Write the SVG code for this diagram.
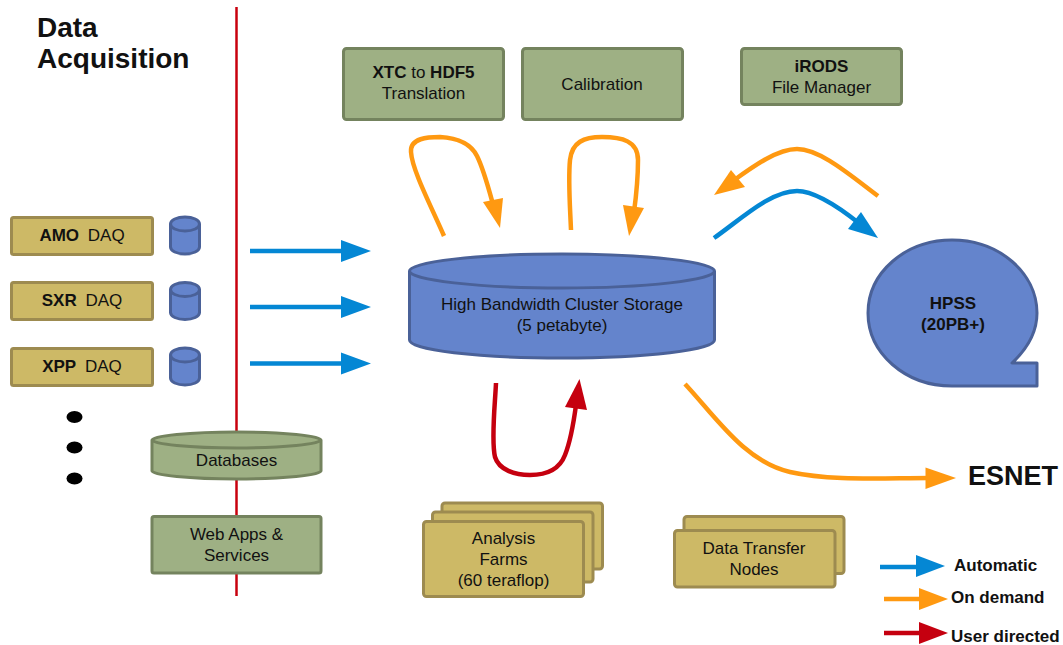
<svg xmlns="http://www.w3.org/2000/svg" width="1063" height="645" viewBox="0 0 1063 645">
<style>
text{font-family:"Liberation Sans",Arial,sans-serif;font-size:17px;fill:#111;text-anchor:middle}
.b{font-weight:700}
.tan{fill:#cdb966;stroke:#9d8b50;stroke-width:3;stroke-linejoin:round}
.grn{fill:#9eb084;stroke:#74835e;stroke-width:3;stroke-linejoin:round}
.blu{fill:#6484cc;stroke:#4a6198;stroke-width:3;stroke-linejoin:round}
.c{fill:none;stroke-width:4.5}
.o{stroke:#ff9911}.a{stroke:#0487d4}.r{stroke:#c5000f}
.fo{fill:#ff9911}.fa{fill:#0487d4}.fr{fill:#c5000f}
.l{font-weight:700;font-size:17px;text-anchor:start}
</style>
<rect width="1063" height="645" fill="#fff"/>
<g id="divider"><line x1="236.5" y1="7" x2="236.5" y2="596" stroke="#c8000e" stroke-width="2.500"/></g>
<g id="title"><text x="37" y="37" class="b" style="font-size:28px;text-anchor:start">Data</text><text x="37" y="68" class="b" style="font-size:28px;text-anchor:start">Acquisition</text></g>
<g id="amo"><rect class="tan" x="11.500" y="217.500" width="141" height="37" rx="2"/><text x="82" y="241"><tspan class="b">AMO</tspan>  <tspan dx="4">DAQ</tspan></text></g>
<g id="sxr"><rect class="tan" x="11.500" y="282.500" width="141" height="37" rx="2"/><text x="82" y="306"><tspan class="b">SXR</tspan>  <tspan dx="4">DAQ</tspan></text></g>
<g id="xpp"><rect class="tan" x="11.500" y="348.500" width="141" height="37" rx="2"/><text x="82" y="372"><tspan class="b">XPP</tspan>  <tspan dx="4">DAQ</tspan></text></g>
<g id="disk-amo"><path class="blu" d="M170.500 224v23c0 4 6.500 7 14.500 7s14.500-3 14.500-7v-23c0-4-6.500-7-14.500-7s-14.500 3-14.500 7c0 4 6.500 7 14.500 7s14.500-3 14.500-7"/></g>
<g id="disk-sxr"><path class="blu" d="M170.500 289.500v23c0 4 6.500 7 14.500 7s14.500-3 14.500-7v-23c0-4-6.500-7-14.500-7s-14.500 3-14.500 7c0 4 6.500 7 14.500 7s14.500-3 14.500-7"/></g>
<g id="disk-xpp"><path class="blu" d="M170.500 355v23c0 4 6.500 7 14.500 7s14.500-3 14.500-7v-23c0-4-6.500-7-14.500-7s-14.500 3-14.500 7c0 4 6.500 7 14.500 7s14.500-3 14.500-7"/></g>
<g id="ellipsis"><ellipse cx="74.500" cy="417" rx="8" ry="6"/><ellipse cx="74.500" cy="447.500" rx="8" ry="6"/><ellipse cx="74.500" cy="478.500" rx="8" ry="6"/></g>
<g id="databases"><path class="grn" d="M152 440v31c0 4 38 8 84.500 8s84.500-4 84.500-8v-31c0-4-38-8-84.500-8s-84.500 4-84.500 8c0 4 38 8 84.500 8s84.500-4 84.500-8"/><text x="236.500" y="466">Databases</text></g>
<g id="webapps"><rect class="grn" x="152" y="516.500" width="169" height="56.500" rx="2"/><text x="236.500" y="540">Web Apps &amp;</text><text x="236.500" y="561">Services</text></g>
<g id="xtc"><rect class="grn" x="343.500" y="48.500" width="160" height="71" rx="3"/><text x="423.500" y="78"><tspan class="b">XTC</tspan> to <tspan class="b">HDF5</tspan></text><text x="423.500" y="99">Translation</text></g>
<g id="calibration"><rect class="grn" x="522.500" y="48.500" width="160" height="71" rx="3"/><text x="602" y="90">Calibration</text></g>
<g id="irods"><rect class="grn" x="741.500" y="48.500" width="160" height="56" rx="3"/><text x="821.500" y="72" class="b">iRODS</text><text x="821.500" y="93">File Manager</text></g>
<g id="storage"><path class="blu" d="M409.500 271v69c0 10 68 18 152.500 18s152.500-8 152.500-18v-69c0-9-68-17-152.500-17s-152.500 8-152.500 17c0 9 68 17 152.500 17s152.500-8 152.500-17"/><text x="562" y="310">High Bandwidth Cluster Storage</text><text x="562" y="331">(5 petabyte)</text></g>
<g id="hpss"><path class="blu" d="M1037 386H952C905 386 868 353 868 313S905 240 952 240S1037 273 1037 313C1037 332 1027 349 1012 363H1037Z"/><text x="953" y="309" class="b">HPSS</text><text x="953" y="330" class="b">(20PB+)</text></g>
<g id="analysis"><rect class="tan" x="442" y="503" width="160.500" height="66" rx="3"/><rect class="tan" x="432.500" y="512" width="160.500" height="70" rx="3"/><rect class="tan" x="423.500" y="521.500" width="160" height="75" rx="3"/><text x="503.500" y="544">Analysis</text><text x="503.500" y="565">Farms</text><text x="503.500" y="586">(60 teraflop)</text></g>
<g id="transfer"><rect class="tan" x="684" y="516.500" width="160" height="57" rx="3"/><rect class="tan" x="674.500" y="530.500" width="160.500" height="56.500" rx="3"/><text x="754" y="554">Data Transfer</text><text x="754" y="575">Nodes</text></g>
<g id="connectors">
<path class="c a" d="M250 251H345M250 307H345M250 363.500H345"/>
<path class="fa" d="M341 240l30 11-30 11zM341 296l30 11-30 11zM341 352.500l30 11-30 11z"/>
<path class="c o" d="M444 236C432 208 412 170 411 152C410 138 428 137 440 137C456 138 470 142 477 156C484 170 489 190 494 208"/>
<path class="fo" d="M500 228L483 202L503 198Z"/>
<path class="c o" d="M571 230C570 205 568 180 570 160C572 142 584 137 602 137C622 137 638 141 638 160C638 175 637 190 634 212"/>
<path class="fo" d="M629 236L623 205L644 208Z"/>
<path class="c o" d="M878 196C850 175 820 149 797 149C778 149 755 165 733 181"/>
<path class="fo" d="M714 195L731 170L745 187Z"/>
<path class="c a" d="M714 238C740 220 770 191 797 191C815 191 840 208 860 224"/>
<path class="fa" d="M878 238L861 212L848 229Z"/>
<path class="c r" d="M496 383C495 405 491 440 495 457C499 470 515 475 530 475C548 475 560 468 565 455C571 440 574 420 576 405"/>
<path class="fr" d="M579.500 379L565 407L587 410Z"/>
<path class="c o" d="M685 384C715 416 745 462 790 472C830 481 880 478 930 478"/>
<path class="fo" d="M925.500 467.500L956 478L925.500 489Z"/>
<path class="c a" d="M880 567H920"/><path class="fa" d="M916 555l29 11-29 11z"/>
<path class="c o" d="M884 599H922"/><path class="fo" d="M919 588l29 11-29 11z"/>
<path class="c r" d="M884 633H922"/><path class="fr" d="M919 622l29 11-29 11z"/>
</g>
<g id="esnet"><text x="968" y="485" class="b" style="font-size:27px;text-anchor:start">ESNET</text></g>
<g id="legend"><text x="954" y="571" class="l">Automatic</text><text x="951" y="603" class="l">On demand</text><text x="951" y="642" class="l">User directed</text></g>
</svg>
